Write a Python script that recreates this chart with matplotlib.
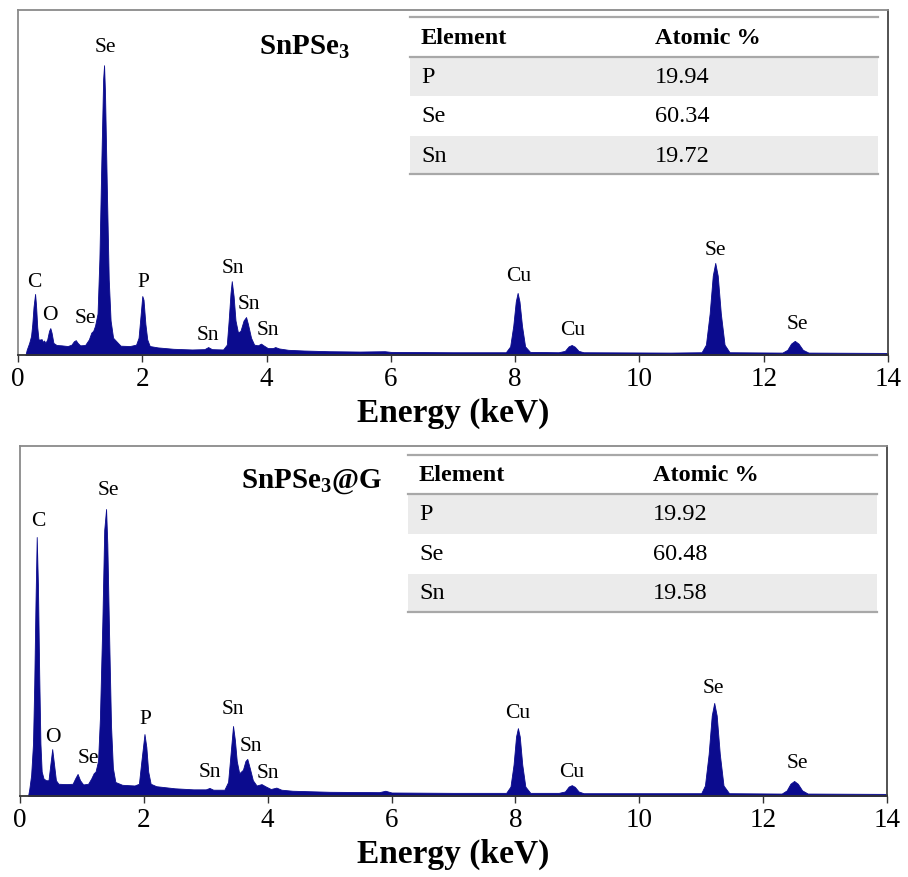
import numpy as np
import matplotlib
matplotlib.use("Agg")
import matplotlib.pyplot as plt
from matplotlib.patches import Rectangle
from matplotlib.lines import Line2D

plt.rcParams['font.family'] = ['Liberation Serif', 'DejaVu Serif']
plt.rcParams['mathtext.default'] = 'regular'

# EDS spectra, energy (keV) vs counts (% of full scale)
e_bare = [0.12, 0.14, 0.18, 0.21, 0.23, 0.25, 0.275, 0.29, 0.31, 0.33, 0.36, 0.38, 0.40, 0.42, 0.44,
          0.47, 0.50, 0.52, 0.54, 0.57, 0.62, 0.70, 0.80, 0.86, 0.90, 0.93, 0.96, 1.00, 1.08, 1.14,
          1.18, 1.21, 1.24, 1.28, 1.31, 1.34, 1.37, 1.385, 1.40, 1.43, 1.46, 1.49, 1.53, 1.65, 1.80,
          1.90, 1.94, 1.97, 2.00, 2.02, 2.05, 2.08, 2.12, 2.25, 2.50, 2.80, 3.00, 3.06, 3.12, 3.30,
          3.36, 3.39, 3.42, 3.44, 3.47, 3.50, 3.54, 3.58, 3.63, 3.67, 3.70, 3.75, 3.80, 3.86, 3.91,
          3.95, 4.02, 4.10, 4.14, 4.20, 4.35, 4.60, 5.00, 5.50, 5.90, 6.00, 7.00, 7.85, 7.92, 7.97,
          8.01, 8.04, 8.07, 8.11, 8.16, 8.24, 8.70, 8.80, 8.86, 8.91, 8.96, 9.02, 9.10, 10.50, 11.00,
          11.07, 11.13, 11.18, 11.22, 11.26, 11.31, 11.37, 11.45, 12.30, 12.38, 12.44, 12.50, 12.56,
          12.63, 12.72, 14.00]
c_bare = [0.0, 1.5, 3.5, 5.5, 9.0, 14.0, 17.7, 14.5, 8.0, 4.5, 4.5, 4.6, 3.8, 4.2, 3.5,
          4.5, 7.0, 7.8, 6.5, 3.5, 2.9, 2.8, 2.6, 3.0, 4.0, 4.3, 3.5, 2.8, 2.9, 4.5,
          6.5, 7.0, 8.5, 12.0, 28.0, 55.0, 80.0, 84.0, 76.0, 48.0, 22.0, 10.0, 5.0, 2.7, 2.6,
          3.0, 5.0, 11.0, 17.1, 16.0, 9.0, 4.5, 2.6, 2.2, 1.8, 1.6, 1.7, 2.3, 1.7, 1.6,
          3.0, 10.0, 18.0, 21.4, 17.0, 10.0, 6.5, 7.0, 10.0, 11.0, 9.0, 5.0, 3.0, 2.8, 3.3,
          2.8, 2.0, 2.0, 2.3, 1.9, 1.5, 1.3, 1.1, 1.0, 1.1, 0.9, 0.8, 0.8, 2.5, 8.5,
          15.5, 18.0, 15.5, 8.5, 2.5, 0.9, 0.8, 1.2, 2.5, 2.9, 2.4, 1.2, 0.8, 0.7, 0.8,
          3.0, 12.0, 23.0, 26.7, 23.0, 12.0, 3.0, 0.8, 0.7, 1.5, 3.3, 4.1, 3.3,
          1.5, 0.7, 0.6]

e_comp = [0.13, 0.15, 0.18, 0.21, 0.23, 0.25, 0.27, 0.29, 0.31, 0.33, 0.35, 0.38, 0.42, 0.46, 0.49,
          0.52, 0.55, 0.58, 0.62, 0.75, 0.85, 0.89, 0.93, 0.97, 1.02, 1.10, 1.15, 1.19, 1.22, 1.26,
          1.29, 1.33, 1.36, 1.39, 1.41, 1.44, 1.47, 1.50, 1.54, 1.65, 1.85, 1.92, 1.96, 2.01, 2.04,
          2.07, 2.11, 2.20, 2.50, 2.80, 3.00, 3.06, 3.12, 3.30, 3.36, 3.40, 3.44, 3.47, 3.50, 3.54,
          3.60, 3.64, 3.67, 3.71, 3.76, 3.82, 3.90, 3.96, 4.05, 4.14, 4.22, 4.40, 5.00, 5.80, 5.90,
          6.00, 7.00, 7.85, 7.92, 7.97, 8.01, 8.04, 8.07, 8.11, 8.16, 8.24, 8.70, 8.80, 8.86, 8.91,
          8.96, 9.02, 9.10, 10.50, 11.00, 11.06, 11.12, 11.17, 11.21, 11.25, 11.30, 11.36, 11.45,
          12.30, 12.38, 12.44, 12.50, 12.56, 12.63, 12.72, 14.00]
c_comp = [0.0, 2.0, 6.0, 15.0, 32.0, 55.0, 74.0, 60.0, 35.0, 15.0, 7.0, 5.0, 4.5, 4.5, 9.0,
          13.4, 9.0, 4.5, 3.5, 3.4, 3.5, 5.0, 6.3, 4.5, 3.3, 3.5, 5.0, 6.5, 7.0, 10.0,
          22.0, 50.0, 76.0, 82.0, 72.0, 45.0, 20.0, 8.0, 4.0, 3.2, 3.0, 3.5, 10.0, 17.7, 14.0,
          7.0, 3.5, 2.8, 2.2, 1.9, 1.9, 2.3, 1.8, 1.8, 4.0, 12.0, 20.0, 16.0, 10.0, 6.5,
          7.5, 10.0, 10.6, 8.0, 4.5, 3.0, 3.4, 2.8, 2.0, 2.4, 1.8, 1.5, 1.2, 1.1, 1.5,
          1.0, 0.9, 0.9, 2.7, 9.0, 17.0, 19.4, 17.0, 9.0, 2.7, 0.9, 0.9, 1.3, 2.7, 3.1,
          2.6, 1.3, 0.8, 0.8, 0.8, 3.0, 12.0, 23.0, 26.6, 23.0, 12.0, 3.0, 0.8,
          0.7, 1.6, 3.5, 4.3, 3.5, 1.6, 0.7, 0.6]

# peak labels: element, energy, label height
lab_bare = [("C", 0.26, 21.4), ("O", 0.51, 11.6), ("Se", 1.09, 11.0), ("Se", 1.40, 89.3),
            ("P", 2.01, 21.4), ("Sn", 3.06, 5.8), ("Sn", 3.46, 25.5), ("Sn", 3.72, 14.8),
            ("Sn", 4.02, 7.5), ("Cu", 8.06, 22.9), ("Cu", 8.92, 7.5), ("Se", 11.22, 30.7),
            ("Se", 12.54, 9.0)]
lab_comp = [("C", 0.29, 78.6), ("O", 0.53, 16.9), ("Se", 1.10, 11.1), ("Se", 1.42, 87.7),
            ("P", 2.02, 22.0), ("Sn", 3.07, 6.9), ("Sn", 3.44, 24.9), ("Sn", 3.73, 14.3),
            ("Sn", 4.00, 6.6), ("Cu", 8.04, 24.0), ("Cu", 8.91, 7.1), ("Se", 11.19, 31.1),
            ("Se", 12.55, 9.7)]

elements = ["P", "Se", "Sn"]
atomic_bare = [19.94, 60.34, 19.72]
atomic_comp = [19.92, 60.48, 19.58]

W, H = 908, 878
fig = plt.figure(figsize=(W / 100, H / 100), dpi=100)

blue = '#0b0b8e'


def fx(px):
    return px / W


def fy(py):
    return 1 - py / H


def panel(box, energy, counts, labels, name, title_xy, table_box, values):
    left, top, right, bottom = box
    ax = fig.add_axes([fx(left), fy(bottom), fx(right - left), (bottom - top) / H])
    ax.fill_between(energy, 0, counts, color=blue, lw=0.6, edgecolor=blue)
    ax.set_xlim(0, 14)
    ax.set_ylim(0, 100)
    ax.set_yticks([])
    ax.set_xticks(range(0, 15, 2))
    ax.tick_params(axis='x', direction='out', length=5, width=1, colors='#333333',
                   labelsize=19.5, pad=3)
    for t in ax.get_xticklabels():
        t.set_color('black')
    ax.spines['top'].set_color('#8a8a8a')
    ax.spines['left'].set_color('#8a8a8a')
    ax.spines['right'].set_color('#444444')
    ax.spines['bottom'].set_color('#333333')
    for s in ax.spines.values():
        s.set_linewidth(1.3)
    ax.set_xlabel('Energy (keV)', fontsize=24, fontweight='bold', labelpad=4)
    for txt, e, y in labels:
        ax.text(e, y, txt, ha='center', va='center', fontsize=15.5)
    fig.text(fx(title_xy[0]), fy(title_xy[1]), name, ha='center', va='center',
             fontsize=21, fontweight='bold')

    # composition table
    x0, x1, col2, rows = table_box
    for i in (1, 3):
        fig.add_artist(Rectangle((fx(x0), fy(rows[i + 1])), fx(x1 - x0),
                                 (rows[i + 1] - rows[i]) / H, transform=fig.transFigure,
                                 facecolor='#ebebeb', edgecolor='none'))
    for r in (rows[0], rows[1], rows[4]):
        fig.add_artist(Line2D([fx(x0), fx(x1)], [fy(r), fy(r)], transform=fig.transFigure,
                              color='#a8a8a8', lw=1.6))
    xt = x0 + 11
    yc = [(rows[i] + rows[i + 1]) / 2 for i in range(4)]
    fig.text(fx(xt), fy(yc[0]), 'Element', fontsize=17.5, fontweight='bold', va='center')
    fig.text(fx(col2), fy(yc[0]), 'Atomic %', fontsize=17.5, fontweight='bold', va='center')
    for k, (el, v) in enumerate(zip(elements, values)):
        fig.text(fx(xt), fy(yc[k + 1]), el, fontsize=17.5, va='center')
        fig.text(fx(col2), fy(yc[k + 1]), f'{v:.2f}', fontsize=17.5, va='center')
    return ax


panel((18, 11, 888, 356), e_bare, c_bare, lab_bare, 'SnPSe$_3$', (305, 47),
      (410, 878, 655, [18, 58, 97, 137, 175]), atomic_bare)
panel((20, 447, 887, 797), e_comp, c_comp, lab_comp, 'SnPSe$_3$@G', (312, 482),
      (408, 877, 653, [456, 495, 535, 575, 613]), atomic_comp)

fig.savefig('out.png', dpi=100)
